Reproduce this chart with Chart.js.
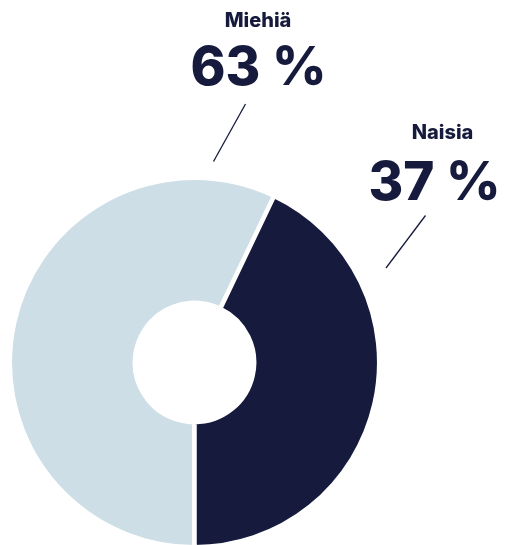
<!DOCTYPE html>
<html>
<head>
<meta charset="utf-8">
<script src="https://cdn.jsdelivr.net/npm/chart.js@4/dist/chart.umd.min.js"></script>
<style>
    html, body { margin: 0; padding: 0; background: #ffffff; overflow: hidden; }
    #gender-chart { display: block; }
</style>
</head>
<body>
<canvas id="gender-chart" width="507" height="545"></canvas>
<script>
/// Categories of the doughnut.
const CATEGORIES = ["Miehiä", "Naisia"];

/// Printed percentages in the labels.
const PERCENT_LABELS = ["63 %", "37 %"];

/// Slice shares as drawn in the picture.
const SLICE_VALUES = [57.1, 42.9];

const SLICE_COLORS = ["#cddee6", "#161a3c"];
const TEXT_COLOR = "#161a3c";
const FONT = "Inter, 'DejaVu Sans', sans-serif";

// Label placement, relative to the doughnut center.
const LABEL_LAYOUT = [
    { x: 63.5, nameY: -335.5, valueY: -277.5, valueX: 64, line: [51, -258.5, 19, -201] },
    { x: 248, nameY: -223.5, valueY: -162.5, valueX: 240, line: [231, -147, 191.5, -94.5] },
];

const labelPlugin = {
    id: 'sliceLabels',
    afterDraw(chart) {
        const meta = chart.getDatasetMeta(0);
        const arc = meta.data[0];
        const cx = arc.x;
        const cy = arc.y;
        const ctx = chart.ctx;
        ctx.save();
        ctx.fillStyle = TEXT_COLOR;
        ctx.strokeStyle = TEXT_COLOR;
        ctx.textAlign = 'center';
        ctx.textBaseline = 'alphabetic';
        CATEGORIES.forEach((name, i) => {
            const l = LABEL_LAYOUT[i];
            ctx.font = `800 20px ${FONT}`;
            ctx.fillText(name, cx + l.x, cy + l.nameY);
            ctx.font = `800 53px ${FONT}`;
            ctx.fillText(PERCENT_LABELS[i], cx + l.valueX, cy + l.valueY);
            ctx.lineWidth = 1.3;
            ctx.beginPath();
            ctx.moveTo(cx + l.line[0], cy + l.line[1]);
            ctx.lineTo(cx + l.line[2], cy + l.line[3]);
            ctx.stroke();
        });
        ctx.restore();
    }
};

new Chart(document.getElementById("gender-chart"), {
    type: 'doughnut',
    data: {
        labels: CATEGORIES,
        datasets: [{
            data: SLICE_VALUES,
            backgroundColor: SLICE_COLORS,
            borderColor: "#ffffff",
            borderWidth: 4.5,
            hoverOffset: 0,
        }],
    },
    options: {
        responsive: false,
        animation: false,
        rotation: 180,
        radius: 184.7,
        cutout: 58.2,
        layout: {
            padding: { left: 12, right: 130, top: 180, bottom: 0 },
        },
        plugins: {
            legend: { display: false },
            tooltip: { enabled: false },
        },
    },
    plugins: [labelPlugin],
});
</script>
</body>
</html>
